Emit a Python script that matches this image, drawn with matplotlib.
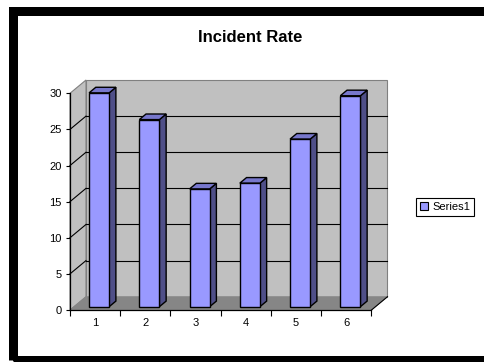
import matplotlib
matplotlib.use("Agg")
import matplotlib.pyplot as plt
from matplotlib.patches import Polygon, Rectangle, Patch

# Data
categories = ["1", "2", "3", "4", "5", "6"]
incident_rate = [29.6, 25.9, 16.3, 17.1, 23.2, 29.2]
y_ticks = [0, 5, 10, 15, 20, 25, 30]
series_name = "Series1"
title = "Incident Rate"

W, H = 484, 362
plt.rcParams["font.family"] = ["Liberation Sans", "DejaVu Sans"]

fig = plt.figure(figsize=(W / 100, H / 100), dpi=100)
fig.patch.set_facecolor("white")


def fx(px):
    return px / W


def fy(py):
    return 1 - py / H


# Front plane of the 3-D box
left_px, right_px, top_px, bottom_px = 70, 371.5, 93.3, 310
ax = fig.add_axes([fx(left_px), fy(bottom_px),
                   (right_px - left_px) / W, (bottom_px - top_px) / H])
n = len(categories)
ymax = y_ticks[-1]
ax.set_xlim(0, n)
ax.set_ylim(0, ymax)
ax.set_facecolor("none")

# Depth of the box in data units
DX = 16 / ((right_px - left_px) / n)
DY = 13.3 / ((bottom_px - top_px) / ymax)

wall = "#C0C0C0"
wall_edge = "#808080"
floor = "#868686"


def poly(pts, fc, ec, lw=0.8, z=1):
    p = Polygon(pts, closed=True, facecolor=fc, edgecolor=ec, linewidth=lw,
                zorder=z, clip_on=False, joinstyle="miter")
    ax.add_patch(p)


# Back wall
poly([(DX, DY), (n + DX, DY), (n + DX, ymax + DY), (DX, ymax + DY)], wall, wall_edge, z=1)
# Left wall
poly([(0, 0), (DX, DY), (DX, ymax + DY), (0, ymax)], wall, wall_edge, z=1)

# Gridlines on the walls
for v in y_ticks[1:-1]:
    ax.plot([DX, n + DX], [v + DY, v + DY], color="black", lw=0.8, zorder=2, clip_on=False)
    ax.plot([0, DX], [v, v + DY], color="black", lw=0.8, zorder=2, clip_on=False)

# Floor
poly([(0, 0), (n, 0), (n + DX, DY), (DX, DY)], floor, floor, lw=0.5, z=3)
ax.plot([n, n + DX], [0, DY], color="black", lw=0.8, zorder=3, clip_on=False)

# 3-D columns
front_d, back_d = 0.25, 0.67
bar_w = 0.4
face_c, top_c, side_c = "#9999FF", "#7777CC", "#4F4F88"
for i, v in enumerate(incident_rate):
    x0 = i + 0.5 - bar_w / 2 + front_d * DX
    x1 = x0 + bar_w
    b = front_d * DY
    t = b + v
    ddx = (back_d - front_d) * DX
    ddy = (back_d - front_d) * DY
    poly([(x1, b), (x1 + ddx, b + ddy), (x1 + ddx, t + ddy), (x1, t)], side_c, "black", lw=1.0, z=5)
    poly([(x0, t), (x1, t), (x1 + ddx, t + ddy), (x0 + ddx, t + ddy)], top_c, "black", lw=1.0, z=5)
    ax.add_patch(Rectangle((x0, b), bar_w, v, facecolor=face_c, edgecolor="black",
                           linewidth=1.0, zorder=6, clip_on=False))

# Axes
for s in ["top", "right"]:
    ax.spines[s].set_visible(False)
for s in ["left", "bottom"]:
    ax.spines[s].set_color("black")
    ax.spines[s].set_linewidth(0.9)
    ax.spines[s].set_zorder(7)
ax.set_yticks(y_ticks)
ax.set_yticklabels([str(v) for v in y_ticks])
ax.tick_params(axis="y", direction="out", length=3, width=0.8, pad=3, labelsize=8)
ax.set_xticks(range(n + 1))
ax.set_xticklabels([])
ax.tick_params(axis="x", which="major", direction="out", length=4.5, width=0.8)
ax.set_xticks([i + 0.5 for i in range(n)], minor=True)
ax.set_xticklabels(categories, minor=True)
ax.tick_params(axis="x", which="minor", length=0, pad=6, labelsize=8)

# Title
fig.text(fx(250), fy(37), title, ha="center", va="center", fontsize=12, fontweight="bold")

# Legend
leg = fig.legend([Patch(facecolor=face_c, edgecolor="black", linewidth=0.8)], [series_name],
                 loc="center", bbox_to_anchor=(fx(445), fy(207)), frameon=True,
                 fancybox=False, edgecolor="black", framealpha=1, fontsize=8,
                 handlelength=0.7, handleheight=0.7, borderpad=0.4, handletextpad=0.4,
                 borderaxespad=0)
leg.get_frame().set_linewidth(0.8)

# Chart area border
fig.add_artist(Rectangle((fx(12.5), fy(359.5)), (486.5 - 12.5) / W, (359.5 - 10.5) / H,
                         transform=fig.transFigure, fill=False, edgecolor="black",
                         linewidth=9 * 0.72, clip_on=False))

fig.savefig("out.png", dpi=100)
